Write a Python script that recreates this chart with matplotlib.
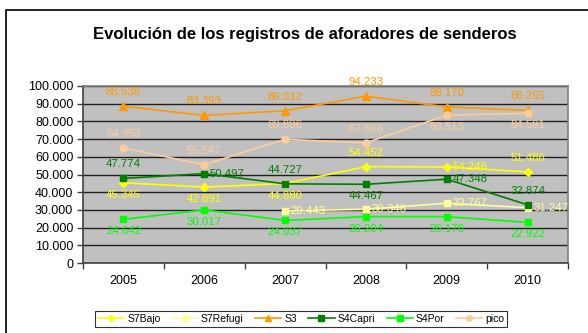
import numpy as np
import matplotlib.pyplot as plt
from matplotlib.patches import Rectangle
from matplotlib.ticker import FuncFormatter

plt.rcParams['font.family'] = ['Liberation Sans', 'DejaVu Sans']

years = ['2005', '2006', '2007', '2008', '2009', '2010']

s7bajo = [45345, 42891, 44880, 54452, 54246, 51486]
s7refugi = [np.nan, np.nan, 29443, 30346, 33767, 31247]
s3 = [88538, 83393, 86012, 94233, 88170, 86265]
s4capri = [47774, 50497, 44727, 44467, 47348, 32874]
s4por = [24642, 30017, 24037, 26204, 26178, 22922]
pico = [64953, 55547, 69896, 67866, 83513, 84591]

# posicion de cada etiqueta: a=arriba, b=abajo, d=derecha
series = [
    ('S7Bajo', s7bajo, '#FFFF00', 'D', 4, ['b', 'b', 'b', 'a', 'd', 'a']),
    ('S7Refugi', s7refugi, '#FFFF99', 's', 5, ['d', 'd', 'd', 'd', 'd', 'd']),
    ('S3', s3, '#FF9900', '^', 6, ['a', 'a', 'a', 'a', 'a', 'a']),
    ('S4Capri', s4capri, '#008000', 's', 5, ['a', 'd', 'a', 'b', 'd', 'a']),
    ('S4Por', s4por, '#00FF00', 's', 5, ['b', 'b', 'b', 'b', 'b', 'b']),
    ('pico', pico, '#FFCC99', 'o', 5, ['a', 'a', 'a', 'a', 'b', 'b']),
]

def miles(v, pos=None):
    return f'{v:,.0f}'.replace(',', '.')

fig = plt.figure(figsize=(5.88, 3.33), dpi=100)
fig.patches.append(Rectangle((6 / 588, -0.2), 1.2, 0.2 + 1 - 10 / 333,
                             transform=fig.transFigure, fill=False,
                             edgecolor='black', linewidth=1.2))

ax = fig.add_axes([83 / 588, 1 - 263 / 333, 485 / 588, 177 / 333])
ax.set_facecolor('#C0C0C0')

x = np.arange(len(years))
offsets = {'a': ((0, 6.5), 'center', 'bottom'),
           'b': ((0, -5), 'center', 'top'),
           'd': ((4, 0), 'left', 'center')}

for nombre, valores, color, marca, tam, pos in series:
    ax.plot(x, valores, color=color, marker=marca, markersize=tam,
            linewidth=1.2, label=nombre, zorder=3)
    for xi, v, p in zip(x, valores, pos):
        if np.isnan(v):
            continue
        off, ha, va = offsets[p]
        ax.annotate(miles(v), (xi, v), xytext=off, textcoords='offset points',
                    ha=ha, va=va, fontsize=8.2, color=color, zorder=4,
                    annotation_clip=False)

ax.set_xlim(-0.5, 5.5)
ax.set_ylim(0, 100000)
ax.set_yticks(np.arange(0, 100001, 10000))
ax.yaxis.set_major_formatter(FuncFormatter(miles))
ax.set_xticks(x)
ax.set_xticklabels(years)
ax.set_xticks(np.arange(-0.5, 6, 1), minor=True)
ax.tick_params(axis='x', which='major', length=0, pad=9, labelsize=9)
ax.tick_params(axis='x', which='minor', length=4, width=1, color='#404040')
ax.tick_params(axis='y', length=4, width=1, pad=3, labelsize=9, color='#404040')
ax.grid(axis='y', color='#202020', linewidth=1)
ax.set_axisbelow(True)
for lado in ax.spines.values():
    lado.set_color('#808080')
    lado.set_linewidth(1.2)
ax.spines['left'].set_color('#404040')
ax.spines['bottom'].set_color('#404040')

fig.text(305 / 588, 1 - 34 / 333, 'Evolución de los registros de aforadores de senderos',
         ha='center', va='center', fontsize=12, fontweight='bold')

leg = fig.legend(loc='center', bbox_to_anchor=(301 / 588, 1 - 319 / 333), ncol=6,
                 fontsize=7.5, frameon=True, fancybox=False, edgecolor='black',
                 handlelength=2.5, handletextpad=0.3, columnspacing=1.1,
                 borderpad=0.3, numpoints=1, markerscale=0.8)
leg.get_frame().set_linewidth(0.8)

fig.savefig('out.png', dpi=100)
